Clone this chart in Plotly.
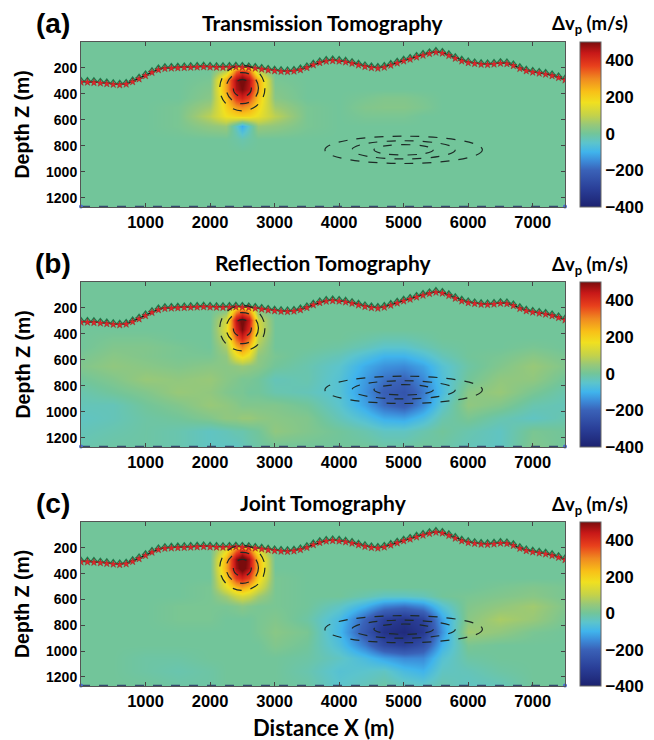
import plotly.graph_objects as go

# ---------------------------------------------------------------
# Velocity-perturbation models (m/s) on a non-uniform grid
# rows: depth nodes, columns: distance nodes
# ---------------------------------------------------------------
x_nodes = [0, 500, 1000, 1500, 2000, 2250, 2400, 2500, 2600, 2750, 3000,
           3500, 4000, 4400, 4700, 5000, 5300, 5600, 6000, 6500, 7000, 7500]
z_nodes = [0, 170, 220, 290, 360, 430, 500, 570, 650, 750, 850, 950, 1050, 1150, 1270]

dv_transmission = [
    [0, 0, 0, 0, 0, 0, 0, 0, 0, 0, 0, 0, 0, 0, 0, 0, 0, 0, 0, 0, 0, 0],
    [0, 0, 0, 0, 0, 0, 0, 0, 0, 0, 0, 0, 0, 0, 0, 0, 0, 0, 0, 0, 0, 0],
    [0, 0, 0, 0, 0, 90, 330, 390, 330, 90, 0, 0, 0, 0, 0, 0, 0, 0, 0, 0, 0, 0],
    [0, 0, 0, 0, 10, 270, 470, 520, 460, 260, 10, 0, 0, 0, 0, 0, 0, 0, 0, 0, 0, 0],
    [0, 0, 0, 0, 20, 270, 460, 500, 450, 260, 20, 0, 0, 0, 0, 0, 0, 0, 0, 0, 0, 0],
    [0, 0, 0, 0, 30, 230, 380, 420, 370, 220, 30, 0, 0, 10, 20, 20, 10, 0, 0, 0, 0, 0],
    [0, 0, 0, 10, 60, 200, 280, 300, 270, 190, 60, 10, 0, 20, 25, 25, 15, 0, 0, 0, 0, 0],
    [0, 0, 0, 10, 90, 170, 190, 200, 190, 160, 90, 10, 0, 10, 10, 10, 0, 0, 0, 0, 0, 0],
    [0, 0, 0, 10, 40, 50, -40, -110, -40, 50, 40, 10, 0, 0, 0, 0, 0, 0, 0, 0, 0, 0],
    [0, 0, 0, 0, 0, 0, -10, -20, -10, 0, 0, 0, 0, 0, 0, 0, 0, 0, 0, 0, 0, 0],
    [0, 0, 0, 0, 0, 0, 0, 0, 0, 0, 0, 0, 0, 0, 0, 0, 0, 0, 0, 0, 0, 0],
    [0, 0, 0, 0, 0, 0, 0, 0, 0, 0, 0, 0, 0, 0, 0, 0, 0, 0, 0, 0, 0, 0],
    [0, 0, 0, 0, 0, 0, 0, 0, 0, 0, 0, 0, 0, 0, 0, 0, 0, 0, 0, 0, 0, 0],
    [0, 0, 0, 0, 0, 0, 0, 0, 0, 0, 0, 0, 0, 0, 0, 0, 0, 0, 0, 0, 0, 0],
    [0, 0, 0, 0, 0, 0, 0, 0, 0, 0, 0, 0, 0, 0, 0, 0, 0, 0, 0, 0, 0, 0],
]

dv_reflection = [
    [0, 0, 0, 0, 0, 0, 0, 0, 0, 0, 0, 0, 0, 0, 0, 0, 0, 0, 0, 0, 0, 0],
    [0, 0, 0, 0, 0, 0, 0, 0, 0, 0, 0, 0, 0, 0, 0, 0, 0, 0, 0, 0, 0, 0],
    [0, 0, 0, 0, 0, 30, 280, 350, 280, 30, 0, 0, 0, 0, 0, 0, 0, 0, 0, 0, 0, 0],
    [0, 0, 0, 0, 0, 120, 450, 520, 440, 120, 0, 0, 0, 0, 0, 0, 0, 0, 0, 0, 0, 0],
    [0, 0, 0, 0, 0, 140, 420, 500, 410, 130, 0, 0, 0, 0, 0, 0, 0, 0, 0, 0, 0, 0],
    [0, 10, 10, 0, 0, 110, 340, 420, 330, 100, 0, 0, 0, -10, -20, -20, -10, 0, 0, 0, 0, 0],
    [0, 20, 20, 10, 0, 70, 240, 300, 230, 70, 0, 0, -10, -30, -50, -50, -30, -10, 0, 0, 10, 0],
    [10, 30, 20, 10, 10, 40, 150, 190, 150, 40, 10, -10, -30, -70, -100, -100, -70, -30, 0, 10, 30, 10],
    [20, 40, 30, 20, 30, 30, 40, 50, 40, 30, 0, -20, -50, -110, -140, -150, -120, -60, -10, 20, 50, 20],
    [0, 20, 50, 40, 50, 30, 20, 10, 10, 0, -30, -20, -60, -130, -180, -200, -150, -70, 0, 40, 40, 0],
    [-20, 0, 20, 50, 40, 20, 10, 10, 0, 0, -20, -30, -60, -140, -210, -240, -170, -80, 30, 50, 10, -20],
    [-30, -30, 0, 20, 50, 40, 30, 20, 20, 20, 20, 0, -50, -120, -190, -220, -150, -50, 40, 20, -20, -30],
    [-40, -30, -10, 0, 20, 40, 40, 50, 50, 40, 30, 20, -30, -70, -110, -120, -80, -20, 10, -20, -40, -20],
    [-30, -20, -10, -20, -40, -30, -20, -20, -10, 0, 40, 20, 0, -20, -40, -40, -20, 0, -20, -40, 10, 0],
    [-20, -10, -10, -20, -40, -40, -40, -30, -20, -10, 0, 0, 0, 0, -10, -10, 0, -10, -30, -40, 20, 0],
]

dv_joint = [
    [0, 0, 0, 0, 0, 0, 0, 0, 0, 0, 0, 0, 0, 0, 0, 0, 0, 0, 0, 0, 0, 0],
    [0, 0, 0, 0, 0, 0, 0, 0, 0, 0, 0, 0, 0, 0, 0, 0, 0, 0, 0, 0, 0, 0],
    [0, 0, 0, 0, 0, 150, 330, 400, 330, 140, 0, 0, 0, 0, 0, 0, 0, 0, 0, 0, 0, 0],
    [0, 0, 0, 0, 0, 250, 480, 540, 470, 240, 0, 0, 0, 0, 0, 0, 0, 0, 0, 0, 0, 0],
    [0, 0, 0, 0, 0, 260, 470, 530, 460, 250, 0, 0, 0, 0, 0, 0, 0, 0, 0, 0, 0, 0],
    [0, 0, 0, 0, 0, 210, 380, 420, 370, 200, 10, 0, 0, 0, 0, 0, 0, 0, 0, 0, 0, 0],
    [0, 0, 0, 0, 10, 150, 240, 270, 230, 140, 10, 0, 0, 0, 0, 0, 0, 0, 0, 10, 20, 10],
    [0, 0, 0, 0, 10, 60, 110, 130, 110, 60, 10, 0, 0, -20, -40, -40, -30, 0, 10, 20, 30, 10],
    [0, 0, 0, 10, 10, 10, 20, 30, 20, 10, 10, 0, -40, -100, -160, -180, -150, -60, 20, 40, 60, 20],
    [0, 0, 0, 10, 10, 0, 0, 0, 0, 10, 20, -10, -80, -200, -300, -330, -290, -120, 30, 70, 50, 10],
    [0, 0, 0, 0, 0, 0, 0, 0, 0, 10, 30, 10, -90, -230, -340, -370, -320, -140, 60, 40, 10, 0],
    [0, 0, 0, 0, 0, 0, 0, 0, 0, 0, 20, 0, -70, -170, -270, -300, -250, -100, 10, 0, 0, 0],
    [0, 0, -10, -10, 0, 0, 0, 0, 0, 0, 0, -10, -40, -80, -120, -150, -150, -60, -10, 0, 0, 0],
    [0, 0, -10, -20, -10, 0, 0, 0, 0, 0, 0, -20, -60, -50, -40, -80, -100, -40, -30, -10, 0, 0],
    [0, 0, 0, -10, -10, 0, 0, 0, 0, 0, 0, -10, -50, -30, -10, -30, -40, -20, -40, -30, 0, 0],
]

# Surface topography (acquisition line), every 100 m
topo_x = list(range(0, 7600, 100))
topo_z = [305, 305, 308, 312, 317, 322, 326, 320, 302, 280,
          255, 230, 210, 200, 197, 195, 193, 191, 189, 187,
          189, 191, 192, 190, 188, 190, 193, 198, 205, 212,
          218, 222, 224, 220, 210, 193, 172, 155, 144, 140,
          143, 150, 160, 173, 185, 194, 198, 190, 175, 158,
          142, 128, 112, 98, 85, 75, 82, 100, 122, 142,
          155, 162, 168, 170, 166, 160, 163, 178, 200, 218,
          228, 236, 244, 255, 270, 288]

# True-model anomaly outlines: centre and semi-axes (m)
pos_center = (2500, 355)
pos_semi_x = [350, 250, 140]
pos_semi_z = [175, 120, 65]
neg_center = (5000, 830)
neg_semi_x = [1220, 800, 460]
neg_semi_z = [105, 70, 40]

panel_titles = ["Transmission Tomography", "Reflection Tomography", "Joint Tomography"]
panel_tags = ["(a)", "(b)", "(c)"]
x_ticks = [1000, 2000, 3000, 4000, 5000, 6000, 7000]
z_ticks = [200, 400, 600, 800, 1000, 1200]
cbar_ticks = [-400, -200, 0, 200, 400]
x_range = [0, 7500]
z_range = [1270, 0]
dv_min, dv_max = -400, 500

# colour map (value in m/s -> colour)
cmap_vals = [-400, -300, -200, -150, -100, -50, 0, 50, 100, 170, 230, 300, 370, 440, 500]
cmap_cols = ["#1c2270", "#2a3f98", "#3a62b8", "#3c8ad8", "#40b4ec", "#5cc4cc",
             "#72c59a", "#98c878", "#c4d24a", "#f0e020", "#f8c018", "#f08a20",
             "#e8401c", "#c81818", "#7a0c0c"]
colorscale = [[(v - dv_min) / (dv_max - dv_min), c] for v, c in zip(cmap_vals, cmap_cols)]

# page geometry in pixels
W, H = 654, 740
L, R, T, B = 81, 565, 42, 686
panel_px = [(42, 207), (282, 447), (522, 686)]
cbar_left = 580


def py(px):
    return (B - px) / (B - T)


def px_x(px):
    return (px - L) / (R - L)


fields = [dv_transmission, dv_reflection, dv_joint]
num_font = "Liberation Sans"
title_font = "Lato"

fig = go.Figure()
layout = dict(width=W, height=H, margin=dict(l=L, r=W - R, t=T, b=H - B),
              paper_bgcolor="white", plot_bgcolor="white", showlegend=False)
annotations = []
shapes = []

for i, field in enumerate(fields):
    sfx = "" if i == 0 else str(i + 1)
    xa, ya, ca = "x" + sfx, "y" + sfx, "coloraxis" + sfx
    top, bot = panel_px[i]

    fig.add_trace(go.Heatmap(x=x_nodes, y=z_nodes, z=field, zsmooth="best",
                             coloraxis=ca, xaxis=xa, yaxis=ya, hoverinfo="skip"))
    # bottom boundary line
    fig.add_trace(go.Scatter(x=x_range, y=[z_range[0] - 4] * 2, mode="lines+markers",
                             line=dict(color="#34496e", width=1.4, dash="dash"),
                             marker=dict(size=4, color="#4a6ad0"),
                             cliponaxis=False, xaxis=xa, yaxis=ya, hoverinfo="skip"))
    # topography
    fig.add_trace(go.Scatter(x=topo_x, y=topo_z, mode="lines",
                             line=dict(color="#111111", width=1.3),
                             xaxis=xa, yaxis=ya, hoverinfo="skip"))
    # receivers
    fig.add_trace(go.Scatter(x=topo_x, y=[z - 11 for z in topo_z], mode="markers",
                             marker=dict(symbol="triangle-up-open", size=5.5, color="#1e7a4c",
                                         line=dict(width=1.2, color="#1e7a4c")),
                             xaxis=xa, yaxis=ya, hoverinfo="skip"))
    # sources
    fig.add_trace(go.Scatter(x=topo_x, y=[z + 5 for z in topo_z], mode="markers",
                             marker=dict(symbol="star", size=5.5, color="#e2262a",
                                         line=dict(width=0.4, color="#8a1a1a")),
                             xaxis=xa, yaxis=ya, hoverinfo="skip"))

    # anomaly outlines
    for cx, cz, sx_list, sz_list in [(pos_center[0], pos_center[1], pos_semi_x, pos_semi_z),
                                     (neg_center[0], neg_center[1], neg_semi_x, neg_semi_z)]:
        for sx, sz in zip(sx_list, sz_list):
            shapes.append(dict(type="circle", xref=xa, yref=ya,
                               x0=cx - sx, x1=cx + sx, y0=cz - sz, y1=cz + sz,
                               line=dict(color="#1d2a26", width=1.2, dash="dash")))

    dom = [py(bot), py(top)]
    key = "" if i == 0 else str(i + 1)
    layout["xaxis" + key] = dict(domain=[0, 1], anchor=ya, range=x_range,
                                 tickvals=x_ticks, ticks="inside", ticklen=4,
                                 tickcolor="#444", showline=True, linecolor="#555",
                                 linewidth=1, mirror="ticks", showgrid=False, zeroline=False,
                                 tickfont=dict(family=num_font, size=16.5,
                                               color="black", weight="bold"))
    layout["yaxis" + key] = dict(domain=dom, anchor=xa, range=z_range,
                                 tickvals=z_ticks, ticks="inside", ticklen=4,
                                 tickcolor="#444", showline=True, linecolor="#555",
                                 linewidth=1, mirror="ticks", showgrid=False, zeroline=False,
                                 tickfont=dict(family=num_font, size=14,
                                               color="black", weight="bold"))
    layout["coloraxis" + key] = dict(
        colorscale=colorscale, cmin=dv_min, cmax=dv_max,
        colorbar=dict(x=px_x(cbar_left), xanchor="left", xpad=0, ypad=0,
                      thickness=21, lenmode="pixels", len=bot - top,
                      y=py((top + bot) / 2), yanchor="middle",
                      outlinewidth=1, outlinecolor="#666",
                      tickvals=cbar_ticks, ticks="",
                      tickfont=dict(family=num_font, size=17,
                                    color="black", weight="bold")))

    annotations.append(dict(text=panel_tags[i], x=px_x(53), y=py(top - 19),
                            xref="paper", yref="paper", showarrow=False,
                            xanchor="center", yanchor="middle",
                            font=dict(family=num_font, size=28, color="black", weight="bold")))
    annotations.append(dict(text=panel_titles[i], x=0.5, y=py(top - 20),
                            xref="paper", yref="paper", showarrow=False,
                            xanchor="center", yanchor="middle",
                            font=dict(family=title_font, size=21, color="black", weight="bold")))
    annotations.append(dict(text="Δv<sub>p</sub> (m/s)", x=px_x(590), y=py(top - 17),
                            xref="paper", yref="paper", showarrow=False,
                            xanchor="center", yanchor="middle",
                            font=dict(family=title_font, size=18.5, color="black", weight="bold")))
    annotations.append(dict(text="Depth Z (m)", x=px_x(22), y=py((top + bot) / 2),
                            xref="paper", yref="paper", showarrow=False, textangle=-90,
                            xanchor="center", yanchor="middle",
                            font=dict(family=num_font, size=19.5, color="black", weight="bold")))

annotations.append(dict(text="Distance X (m)", x=0.5, y=py(727),
                        xref="paper", yref="paper", showarrow=False,
                        xanchor="center", yanchor="middle",
                        font=dict(family=title_font, size=22, color="black", weight="bold")))

layout["annotations"] = annotations
layout["shapes"] = shapes
fig.update_layout(**layout)
fig.write_html("out.html")
